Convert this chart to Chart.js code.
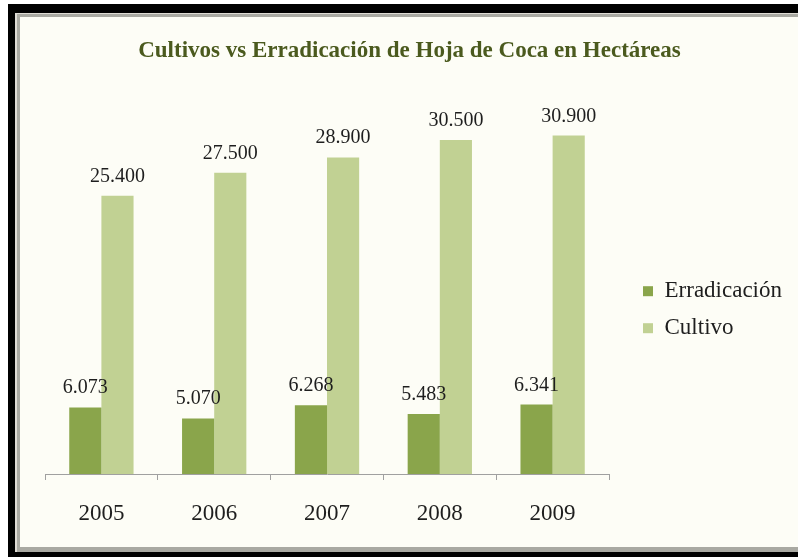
<!DOCTYPE html>
<html>
<head>
<meta charset="utf-8">
<script src="https://cdn.jsdelivr.net/npm/chart.js"></script>
<style>
body { margin: 0; background: #fff; width: 798px; height: 557px; overflow: hidden; position: relative; }
#Frame { position: absolute; left: 8px; top: 4px; width: 790px; height: 553px; background: #000; }
#Bevel { position: absolute; left: 15px; top: 13px; width: 783px; height: 539px; background: #a9a9a2; border-top: 1px solid #dedbd4; border-left: 2px solid #dedbd4; box-sizing: border-box; }
#Box { position: absolute; left: 20px; top: 17px; width: 778px; height: 530px; background: #fdfdf6; }
</style>
</head>
<body>
<div id="Frame"></div>
<div id="Bevel"></div>
<div id="Box"><canvas id="Chart"></canvas></div>
<script>
let Years = ['2005', '2006', '2007', '2008', '2009']
let Erradicacion = [6073, 5070, 6268, 5483, 6341]
let Cultivo = [25400, 27500, 28900, 30500, 30900]
let SeriesNames = ['Erradicación', 'Cultivo']
let ChartTitle = 'Cultivos vs Erradicación de Hoja de Coca en Hectáreas'

function FormatNumber(Value) {
    return String(Value).replace(/\B(?=(\d{3})+(?!\d))/g, '.')
}

// numbers over the bars
let ValueLabels = {
    id: 'ValueLabels',
    afterDatasetsDraw(chart) {
        let ctx = chart.ctx
        ctx.save()
        ctx.font = '20px "Liberation Serif"'
        ctx.fillStyle = '#1e1e1e'
        ctx.textAlign = 'center'
        ctx.textBaseline = 'alphabetic'
        chart.data.datasets.forEach((Set, i) => {
            chart.getDatasetMeta(i).data.forEach((Bar, j) => {
                ctx.fillText(FormatNumber(Set.data[j]), Bar.x, Bar.y - 14)
            })
        })
        ctx.restore()
    }
}

let Canvas = document.getElementById('Chart')
let BarChart = new Chart(Canvas, {
    type: 'bar',
    data: {
        labels: Years,
        datasets: [{
            label: SeriesNames[0],
            data: Erradicacion,
            backgroundColor: '#8aa54b',
            categoryPercentage: 0.57,
            barPercentage: 1
        }, {
            label: SeriesNames[1],
            data: Cultivo,
            backgroundColor: '#c1d193',
            categoryPercentage: 0.57,
            barPercentage: 1
        }]
    },
    plugins: [ValueLabels],
    options: {
        responsive: true,
        maintainAspectRatio: false,
        animation: false,
        layout: {
            padding: { left: 7, right: 6, top: 0, bottom: 0 }
        },
        plugins: {
            title: {
                display: true,
                text: ChartTitle,
                color: '#4b5a1e',
                font: { family: 'Liberation Serif', size: 23, weight: 'bold' },
                padding: { top: 20, bottom: 26 }
            },
            legend: {
                position: 'right',
                maxWidth: 200,
                // empty title only pushes the entries down
                title: { display: true, text: '', padding: { top: 41, bottom: 0 } },
                labels: {
                    boxWidth: 10,
                    boxHeight: 10,
                    padding: 14,
                    color: '#1e1e1e',
                    font: { family: 'Liberation Serif', size: 23 }
                }
            },
            tooltip: { enabled: false }
        },
        scales: {
            x: {
                grid: { display: true, drawOnChartArea: false, tickLength: 6, color: '#a0a0a0' },
                border: { color: '#a0a0a0' },
                ticks: { padding: 22, color: '#1e1e1e', font: { family: 'Liberation Serif', size: 23, lineHeight: 1 } }
            },
            y: {
                position: 'left',
                min: 0,
                max: 35000,
                grid: { display: false },
                border: { display: false },
                ticks: { display: false },
                afterFit(Scale) { Scale.width = 18 }
            },
            y2: {
                position: 'right',
                grid: { display: false },
                border: { display: false },
                ticks: { display: false },
                afterFit(Scale) { Scale.width = 20 }
            }
        }
    }
})
</script>
</body>
</html>
